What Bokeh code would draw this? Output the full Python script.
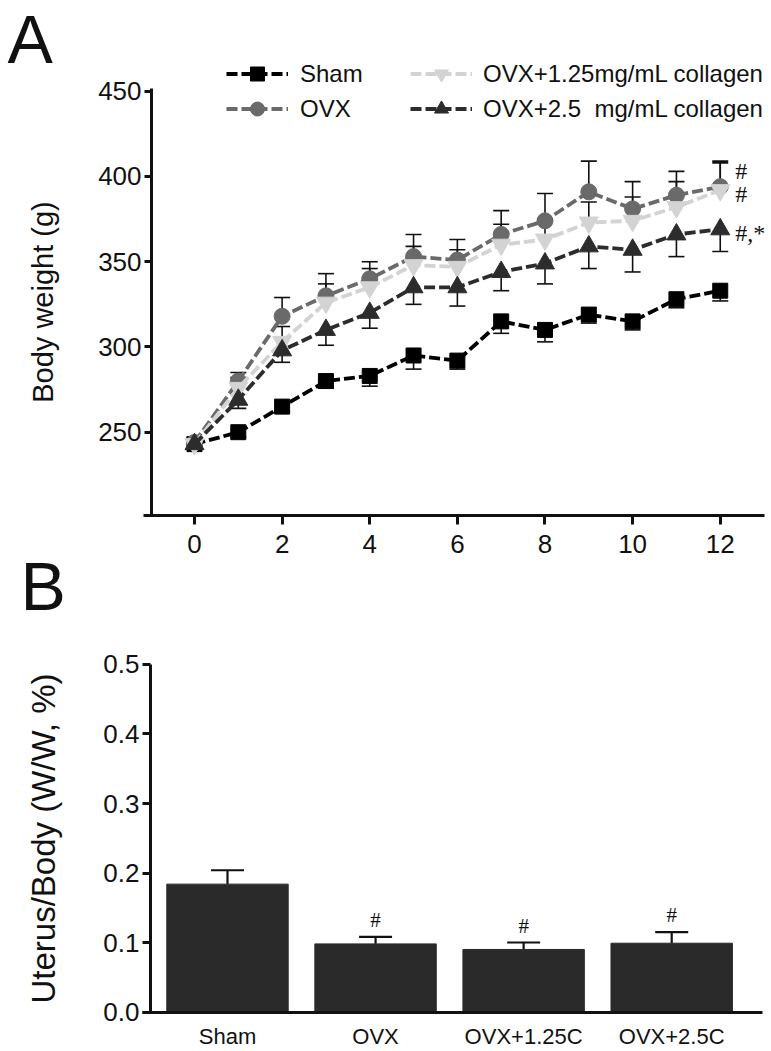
from bokeh.plotting import figure
from bokeh.models import (Range1d, FixedTicker, ColumnDataSource, Whisker, TeeHead,
                          Legend, LegendItem, Label, LabelSet, NumeralTickFormatter,
                          LinearAxis)
from bokeh.layouts import column
from bokeh.embed import file_html
from bokeh.resources import INLINE

# ---------------- data: panel A (body weight, g) ----------------
weeks = [0, 1, 2, 3, 4, 5, 6, 7, 8, 9, 10, 11, 12]
sham = [243, 250, 265, 280, 283, 295, 292, 315, 310, 319, 315, 328, 333]
sham_err = [3, 3, 3, 4, 6, 8, 5, 7, 7, 5, 5, 5, 6]
ovx = [244, 280, 318, 330, 340, 353, 351, 366, 374, 391, 381, 389, 394]
ovx_err = [3, 5, 11, 13, 10, 13, 12, 14, 16, 18, 16, 14, 15]
c125 = [243, 276, 303, 326, 335, 348, 347, 360, 363, 373, 374, 382, 392]
c125_err = [3, 6, 9, 11, 11, 11, 10, 12, 12, 12, 14, 15, 16]
c25 = [243, 269, 298, 310, 320, 335, 335, 344, 349, 359, 357, 366, 369]
c25_err = [3, 5, 7, 9, 9, 10, 11, 11, 12, 13, 13, 13, 13]
series_names = ["Sham", "OVX", "OVX+1.25mg/mL collagen", "OVX+2.5  mg/mL collagen"]
sig_text = ["#", "#", "#,*"]
sig_y = [403, 390, 367]
x_ticks = [0, 2, 4, 6, 8, 10, 12]
y_ticks_a = [250, 300, 350, 400, 450]

# ---------------- data: panel B (uterus/body, %) ----------------
groups = ["Sham", "OVX", "OVX+1.25C", "OVX+2.5C"]
ratio = [0.184, 0.098, 0.090, 0.099]
ratio_err = [0.020, 0.010, 0.010, 0.016]
ratio_sig = ["", "#", "#", "#"]
y_ticks_b = [0.0, 0.1, 0.2, 0.3, 0.4, 0.5]

FONT = "Liberation Sans"
INK = "#111111"


def style_axis(ax, tick_font, label_font):
    ax.axis_line_width = 3
    ax.axis_line_color = INK
    ax.major_tick_line_width = 3
    ax.major_tick_line_color = INK
    ax.major_tick_in = 0
    ax.minor_tick_line_color = None
    ax.major_label_text_font = FONT
    ax.major_label_text_font_size = tick_font
    ax.major_label_text_color = INK
    ax.axis_label_text_font = FONT
    ax.axis_label_text_font_style = "normal"
    ax.axis_label_text_font_size = label_font
    ax.axis_label_text_color = INK


def base_figure(height, x_range, y_range):
    p = figure(width=771, height=height, output_backend="svg", toolbar_location=None,
               x_range=x_range, y_range=y_range, x_axis_location=None,
               y_axis_location=None, min_border=0)
    p.title.visible = False
    p.grid.visible = False
    p.outline_line_color = None
    p.background_fill_color = "white"
    p.border_fill_color = "white"
    return p


# ================= panel A =================
p1 = base_figure(630, Range1d(-4.428, 13.170), Range1d(133.67, 503.24))

xax1 = LinearAxis(fixed_location=200.84, bounds=(-1.16, 13.0),
                  ticker=FixedTicker(ticks=x_ticks))
style_axis(xax1, "26px", "29px")
xax1.major_tick_out = 9
xax1.major_label_standoff = 10
p1.add_layout(xax1, "below")

yax1 = LinearAxis(fixed_location=-0.981, bounds=(200.84, 451.5),
                  ticker=FixedTicker(ticks=y_ticks_a), axis_label="Body weight (g)")
style_axis(yax1, "26px", "29px")
yax1.major_tick_out = 7
yax1.major_label_standoff = 3
yax1.axis_label_standoff = 36
p1.add_layout(yax1, "left")

styles = [
    # values, errors, marker, colour, size, error direction
    (sham, sham_err, "square", "#000000", 15, "down"),
    (ovx, ovx_err, "circle", "#6a6a6a", 16, "up"),
    (c125, c125_err, "inverted_triangle", "#d3d3d3", 19, "up"),
    (c25, c25_err, "triangle", "#2c2c2c", 19, "down"),
]

renderers = []
for vals, errs, marker, color, size, direction in styles:
    if direction == "up":
        lo = list(vals)
        hi = [v + e for v, e in zip(vals, errs)]
    else:
        lo = [v - e for v, e in zip(vals, errs)]
        hi = list(vals)
    src = ColumnDataSource(dict(x=weeks, y=vals, lower=lo, upper=hi))
    head = TeeHead(size=16, line_color=INK, line_width=1.6)
    if direction == "up":
        w = Whisker(base="x", lower="lower", upper="upper", source=src,
                    line_color=INK, line_width=1.6, upper_head=head, lower_head=None)
    else:
        w = Whisker(base="x", lower="lower", upper="upper", source=src,
                    line_color=INK, line_width=1.6, lower_head=head, upper_head=None)
    p1.add_layout(w)
    lr = p1.line("x", "y", source=src, line_color=color, line_width=3.8, line_dash="11 4")
    sr = p1.scatter("x", "y", source=src, marker=marker, size=size,
                    fill_color=color, line_color=color)
    renderers.append((lr, sr))

legend_kw = dict(glyph_width=62, glyph_height=35, spacing=0, padding=0, margin=0,
                 border_line_color=None, background_fill_alpha=0,
                 label_text_font=FONT, label_text_font_size="24px",
                 label_text_color=INK)
# legend location is in screen px from the frame's bottom-left corner
leg1 = Legend(items=[LegendItem(label=series_names[i], renderers=list(renderers[i]))
                     for i in (0, 1)],
              location=(226, 504), label_standoff=12, **legend_kw)
leg2 = Legend(items=[LegendItem(label=series_names[i], renderers=list(renderers[i]))
                     for i in (2, 3)],
              location=(410, 504), label_standoff=11, **legend_kw)
p1.add_layout(leg1)
p1.add_layout(leg2)

sig_src = ColumnDataSource(dict(x=[weeks[-1]] * len(sig_text), y=sig_y, t=sig_text))
p1.add_layout(LabelSet(x="x", y="y", text="t", source=sig_src, x_offset=15,
                       text_font=FONT, text_font_size="24px", text_color=INK,
                       text_baseline="middle", text_align="left"))

# panel letters (both live in the upper canvas)
p1.add_layout(Label(x=-4.27, y=480.9, text="A", text_font=FONT, text_font_size="68px",
                    text_color=INK, text_baseline="alphabetic", text_align="left"))
p1.add_layout(Label(x=-3.97, y=160.0, text="B", text_font=FONT, text_font_size="68px",
                    text_color=INK, text_baseline="alphabetic", text_align="left"))

# ================= panel B =================
xs = list(range(len(groups)))
p2 = base_figure(421, Range1d(-1.533, 3.674), Range1d(-0.0568, 0.5489))

xax2 = LinearAxis(fixed_location=0, bounds=(-0.574, 3.613),
                  ticker=FixedTicker(ticks=xs))
style_axis(xax2, "22px", "33px")
xax2.major_label_overrides = {i: g for i, g in zip(xs, groups)}
xax2.major_tick_out = 0
xax2.major_label_standoff = 12
p2.add_layout(xax2, "below")

yax2 = LinearAxis(fixed_location=-0.520, bounds=(0, 0.5),
                  ticker=FixedTicker(ticks=y_ticks_b),
                  formatter=NumeralTickFormatter(format="0.0"),
                  axis_label="Uterus/Body (W/W, %)")
style_axis(yax2, "26px", "33px")
yax2.major_tick_out = 8
yax2.major_label_standoff = 3
yax2.axis_label_standoff = 38
p2.add_layout(yax2, "left")

bsrc = ColumnDataSource(dict(x=xs, top=ratio,
                             upper=[r + e for r, e in zip(ratio, ratio_err)],
                             sig=ratio_sig))
p2.add_layout(Whisker(base="x", lower="top", upper="upper", source=bsrc,
                      line_color=INK, line_width=2.2,
                      upper_head=TeeHead(size=33, line_color=INK, line_width=2.2),
                      lower_head=None))
p2.vbar(x="x", top="top", width=0.82, source=bsrc, fill_color="#2a2a2a",
        line_color="#2a2a2a")
p2.add_layout(LabelSet(x="x", y="upper", text="sig", source=bsrc, y_offset=5,
                       text_font=FONT, text_font_size="21px", text_color=INK,
                       text_baseline="bottom", text_align="center"))

layout = column(p1, p2)
open("out.html", "w").write(file_html(layout, INLINE))
